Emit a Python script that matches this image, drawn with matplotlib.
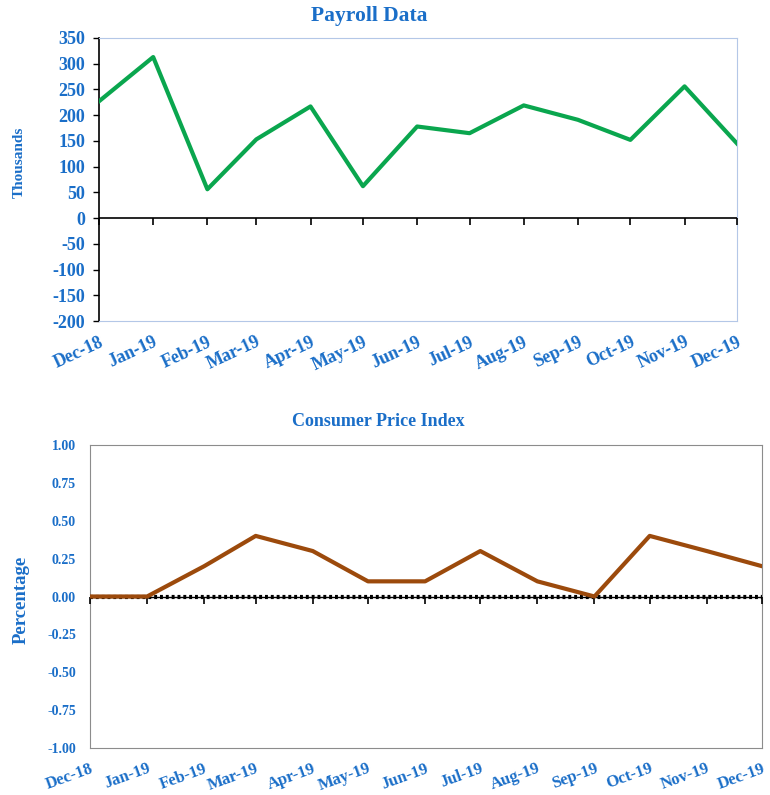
import numpy as np
import pandas as pd
import matplotlib
matplotlib.use('Agg')
import matplotlib.pyplot as plt

# month positions (date axis) and labels
months = pd.to_datetime(['2018-12-01', '2019-01-01', '2019-02-01', '2019-03-01',
                         '2019-04-01', '2019-05-01', '2019-06-01', '2019-07-01',
                         '2019-08-01', '2019-09-01', '2019-10-01', '2019-11-01',
                         '2019-12-01'])
month_labels = ['Dec-18', 'Jan-19', 'Feb-19', 'Mar-19', 'Apr-19', 'May-19', 'Jun-19',
                'Jul-19', 'Aug-19', 'Sep-19', 'Oct-19', 'Nov-19', 'Dec-19']

# payroll change, thousands
payroll = [227, 313, 56, 153, 217, 62, 178, 165, 219, 191, 152, 256, 145]
payroll_ticks = [-200, -150, -100, -50, 0, 50, 100, 150, 200, 250, 300, 350]

# CPI monthly change, percent
cpi = [0.0, 0.0, 0.2, 0.4, 0.3, 0.1, 0.1, 0.3, 0.1, 0.0, 0.4, 0.3, 0.2]
cpi_ticks = [-1.0, -0.75, -0.5, -0.25, 0.0, 0.25, 0.5, 0.75, 1.0]

blue = '#1a6ec8'
plt.rcParams['font.family'] = ['Liberation Serif', 'DejaVu Serif']
plt.rcParams['font.weight'] = 'bold'
plt.rcParams['axes.unicode_minus'] = False

fig = plt.figure(figsize=(7.7, 7.95), dpi=100)

# ---------------- Payroll Data ----------------
ax1 = fig.add_axes([99/770, 1 - 321/795, 638/770, 283/795])
ax1.plot(months, payroll, color='#0aa64e', lw=3, zorder=4)
ax1.axhline(0, color='black', lw=1.2, zorder=3)
ax1.plot(months, [0]*len(months), ls='none', marker=3, ms=5, mew=1.2,
         color='black', zorder=3, clip_on=False)
ax1.set_xlim(months[0], months[-1])
ax1.set_ylim(-200, 350)
ax1.set_yticks(payroll_ticks)
ax1.tick_params(axis='y', length=4, width=1, color='black', labelcolor=blue,
                labelsize=13, pad=6)
ax1.set_xticks(months)
ax1.set_xticklabels(month_labels, rotation=25, ha='right', va='top',
                    rotation_mode='anchor')
ax1.tick_params(axis='x', length=0, labelcolor=blue, labelsize=13, pad=9)
for s in ['top', 'right', 'bottom']:
    ax1.spines[s].set_color('#b4c7e7')
ax1.spines['left'].set_color('black')
ax1.spines['left'].set_linewidth(1.2)
ax1.set_ylabel('Thousands', color=blue, fontsize=11, fontweight='bold')
ax1.yaxis.set_label_coords(-0.115, 0.56)
fig.text(369/770, 1 - 16/795, 'Payroll Data', color=blue, fontsize=15.5,
         ha='center', va='center')

# ---------------- Consumer Price Index ----------------
ax2 = fig.add_axes([90/770, 1 - 748/795, 672/770, 303/795])
ax2.plot(months, cpi, color='#9c4a0c', lw=3, zorder=4)
ax2.axhline(0, color='black', lw=1, zorder=3)
ax2.axhline(0, color='black', lw=3, ls=(0, (0.7, 0.7)), zorder=3)
ax2.plot(months, [0]*len(months), ls='none', marker=3, ms=5, mew=1.2,
         color='black', zorder=3, clip_on=False)
ax2.set_xlim(months[0], months[-1])
ax2.set_ylim(-1, 1)
ax2.set_yticks(cpi_ticks)
ax2.set_yticklabels([f'{v:.2f}' for v in cpi_ticks])
ax2.tick_params(axis='y', length=0, labelcolor=blue, labelsize=10, pad=10)
ax2.set_xticks(months)
ax2.set_xticklabels(month_labels, rotation=20, ha='right', va='top',
                    rotation_mode='anchor')
ax2.tick_params(axis='x', length=0, labelcolor=blue, labelsize=12, pad=9)
for s in ax2.spines.values():
    s.set_color('#8c8c8c')
ax2.set_ylabel('Percentage', color=blue, fontsize=13.5, fontweight='bold')
ax2.yaxis.set_label_coords(-0.09, 0.49)
fig.text(378/770, 1 - 421/795, 'Consumer Price Index', color=blue, fontsize=13,
         ha='center', va='center')

fig.savefig('out.png', dpi=100)
